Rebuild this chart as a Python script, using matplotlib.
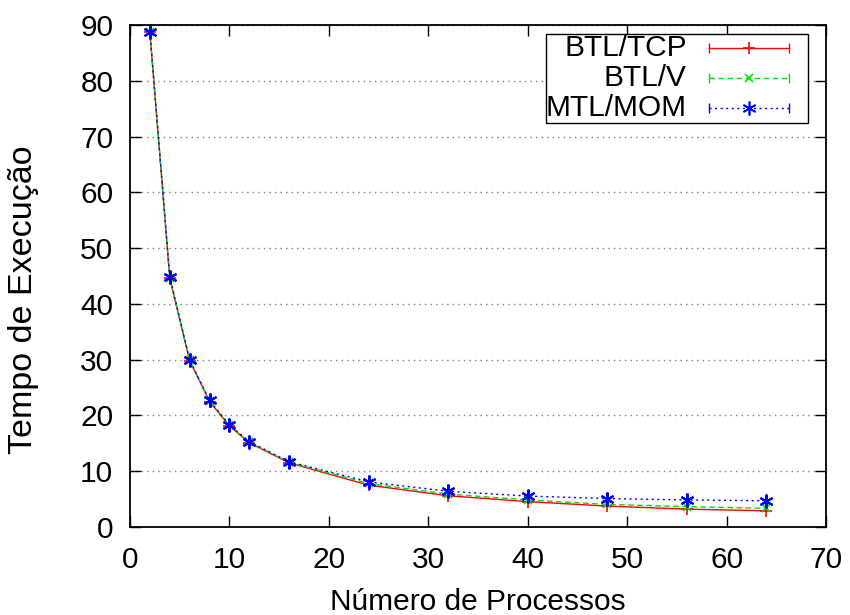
import matplotlib
matplotlib.use("Agg")
import matplotlib.pyplot as plt
from matplotlib.patches import Rectangle
from matplotlib.lines import Line2D

plt.rcParams['font.family'] = ['Liberation Sans', 'DejaVu Sans']

procs = [2, 4, 6, 8, 10, 12, 16, 24, 32, 40, 48, 56, 64]
btl_tcp = [88.7, 44.6, 29.8, 22.5, 18.1, 15.1, 11.5, 7.5, 5.6, 4.55, 3.75, 3.2, 2.9]
btl_v = [88.7, 44.7, 29.9, 22.6, 18.2, 15.2, 11.6, 7.8, 5.9, 4.85, 4.05, 3.65, 3.35]
mtl_mom = [88.8, 44.8, 30.0, 22.7, 18.3, 15.3, 11.7, 8.1, 6.4, 5.55, 5.1, 4.85, 4.7]
labels = ["BTL/TCP", "BTL/V", "MTL/MOM"]

fig = plt.figure(figsize=(8.5, 6.15), dpi=100)
ax = fig.add_axes([130 / 850, 1 - 527 / 615, 696 / 850, 502 / 615])

red, green, blue = '#ff0000', '#00e000', '#0000ff'
ls_v = (0, (4, 2.5))
ls_m = (0, (1.5, 2.5))
ax.plot(procs, btl_tcp, color=red, lw=1, ls='-', marker='+', ms=9, mew=1.2)
ax.plot(procs, btl_v, color=green, lw=1, ls=ls_v, marker='x', ms=6, mew=1.2)
ax.plot(procs, mtl_mom, color=blue, lw=1, ls=ls_m, marker=(6, 2, 0), ms=10, mew=1.5)

ax.set_xlim(0, 70)
ax.set_ylim(0, 90)
ax.set_xticks(range(0, 71, 10))
ax.set_yticks(range(0, 91, 10))
ax.yaxis.grid(True, ls=(0, (1, 3)), color='#808080', lw=1)
ax.tick_params(direction='in', top=True, right=True, labelsize=21.5, length=8, width=1)
ax.tick_params(axis='x', pad=14)
ax.tick_params(axis='y', pad=12)
for s in ax.spines.values():
    s.set_linewidth(1.3)

fig.text(478 / 850, 1 - 610.5 / 615, "Número de Processos", fontsize=21.5,
         ha='center', va='baseline')
fig.text(23.5 / 850, 1 - 300 / 615, "Tempo de Execução", fontsize=24.5, rotation=90,
         ha='center', va='center')

# legend (gnuplot style)
ax.add_patch(Rectangle((0.598, 0.805), 0.376, 0.178, transform=ax.transAxes,
                       facecolor='white', edgecolor='black', lw=1, zorder=5))
styles = [(red, '-', '+', 9), (green, ls_v, 'x', 6), (blue, ls_m, (6, 2, 0), 10)]
rows = [0.954, 0.894, 0.835]
for (c, ls, m, ms), yy, lab in zip(styles, rows, labels):
    ax.text(0.800, yy, lab, transform=ax.transAxes, ha='right', va='center', fontsize=21.5, zorder=6)
    ax.add_line(Line2D([0.832, 0.947], [yy, yy], transform=ax.transAxes, color=c, ls=ls, lw=1, zorder=6))
    ax.add_line(Line2D([0.889], [yy], transform=ax.transAxes, color=c, marker=m, ms=ms, mew=1.2, zorder=6))
    ax.add_line(Line2D([0.832, 0.947], [yy, yy], transform=ax.transAxes, color=c, ls='none', marker='|', ms=7, mew=1, zorder=6))

fig.savefig("out.png", dpi=100)
